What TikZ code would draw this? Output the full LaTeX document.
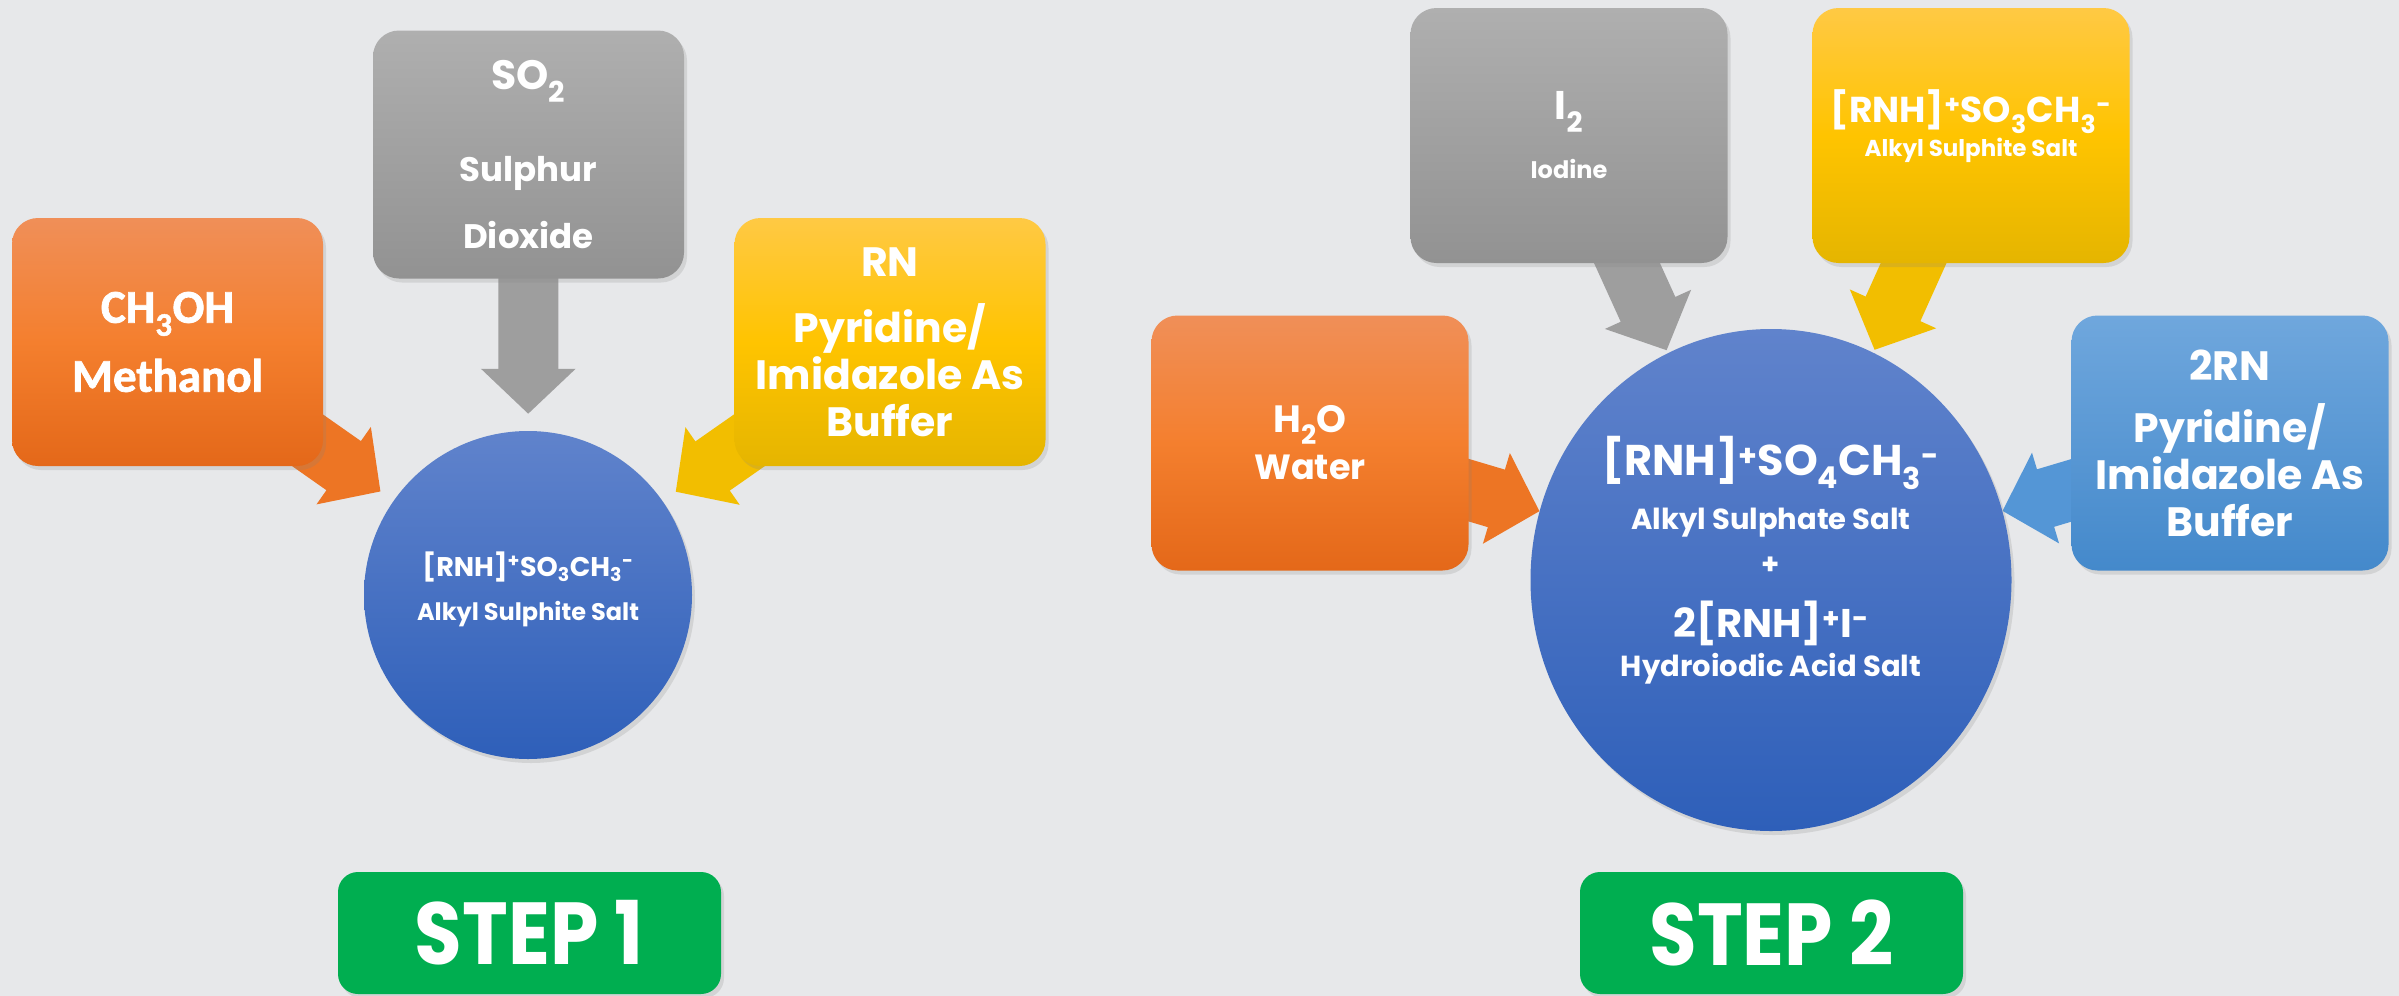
\documentclass[tikz,border=0pt]{standalone}
\usepackage{fontspec}
\setmainfont{Poppins}
\newfontfamily\calfont{Carlito}[BoldFeatures={FakeBold=1.5}]
\usetikzlibrary{arrows.meta,shadows,shapes.geometric,positioning}

\definecolor{bggray}{RGB}{231,232,234}
\definecolor{orangeT}{RGB}{240,143,88}
\definecolor{orangeM}{RGB}{244,127,46}
\definecolor{orangeB}{RGB}{228,104,25}
\definecolor{orangeA}{RGB}{237,117,36}
\definecolor{grayT}{RGB}{175,175,175}
\definecolor{grayB}{RGB}{146,146,146}
\definecolor{grayA}{RGB}{158,158,158}
\definecolor{goldT}{RGB}{255,201,68}
\definecolor{goldM}{RGB}{255,196,0}
\definecolor{goldB}{RGB}{229,181,0}
\definecolor{goldA}{RGB}{242,190,0}
\definecolor{skyT}{RGB}{111,167,221}
\definecolor{skyB}{RGB}{68,137,203}
\definecolor{skyA}{RGB}{84,150,214}
\definecolor{ballT}{RGB}{96,131,204}
\definecolor{ballB}{RGB}{46,95,185}
\definecolor{stepgreen}{RGB}{0,174,80}

\pgfdeclarelayer{paper}
\pgfdeclarelayer{links}
\pgfsetlayers{paper,links,main}

\newcommand{\fs}[2]{\fontsize{#1}{#2}\selectfont}

\begin{document}
\begin{tikzpicture}[x=1pt,y=-1pt,
    soft/.style={drop shadow={shadow xshift=3pt, shadow yshift=-4pt, opacity=0.2}},
    box/.style={soft, rounded corners=26pt, minimum width=311pt, minimum height=248pt, inner sep=0pt,
      align=center, text=white, font=\bfseries\fs{41}{47}},
    bigbox/.style={box, minimum width=317pt, minimum height=255pt},
    ball/.style={soft, circle, inner sep=0pt, top color=ballT, bottom color=ballB},
    txt/.style={align=center, text=white, inner sep=0pt},
    flow/.style={line width=60pt, -{Triangle[width=92pt,length=45pt]}},
    stepbox/.style={soft, rounded corners=20pt, fill=stepgreen, minimum width=383pt, minimum height=122pt,
      text=white, font=\bfseries\fs{88}{88}}
  ]
  \useasboundingbox (0,0) rectangle (2399,996);
  \begin{pgfonlayer}{paper}
    \fill[bggray] (0,0) rectangle (2399,996);
  \end{pgfonlayer}

  % step 1
  \node[box, top color=orangeT, bottom color=orangeB, middle color=orangeM,
    font=\calfont\bfseries\fs{47}{69}] (meth) at (167.5,342) {CH\textsubscript{3}OH\\Methanol};
  \node[box, top color=grayT, bottom color=grayB, font=\bfseries\fs{34}{67}] (so2) at (528.5,154.5)
    {{\fs{41}{67}SO\textsubscript{2}}\\[25pt]Sulphur\\Dioxide};
  \node[box, top color=goldT, bottom color=goldB, middle color=goldM] (rn) at (890,342)
    {RN\\[19pt]Pyridine/\\Imidazole As\\Buffer};
  \node[ball, minimum size=328pt] (prod1) at (528,595) {};
  \node[txt, font=\bfseries\fs{24}{44}] (prod1txt) at ([yshift=6pt]prod1.center)
    {{\fs{27}{44}[RNH]\textsuperscript{+}SO\textsubscript{3}CH\textsubscript{3}\textsuperscript{-}}\\Alkyl Sulphite Salt};
  \node[stepbox] (step1) at (529.5,933) {\scalebox{0.88}[1]{STEP 1}};

  % step 2
  \node[bigbox, top color=grayT, bottom color=grayB, font=\bfseries\fs{24}{59}] (iod) at (1569,135.5)
    {{\fs{40}{59}I\textsubscript{2}}\\Iodine};
  \node[bigbox, top color=goldT, bottom color=goldB, middle color=goldM] (salt) at (1971,135.5) {};
  \node[txt, font=\bfseries\fs{23}{34}] (salttxt) at ([yshift=9pt]salt.center)
    {{\fs{36}{34}[RNH]\textsuperscript{+}SO\textsubscript{3}CH\textsubscript{3}\textsuperscript{-}}\\Alkyl Sulphite Salt};
  \node[bigbox, top color=orangeT, bottom color=orangeB, middle color=orangeM, font=\bfseries\fs{35}{47}] (water) at (1310,443)
    {{\fs{38}{47}H\textsubscript{2}O}\\Water};
  \node[bigbox, top color=skyT, bottom color=skyB] (buf) at (2230,443) {2RN\\[15pt]Pyridine/\\Imidazole As\\Buffer};
  \node[ball, ellipse, minimum width=481pt, minimum height=502pt] (prod2) at (1771,580) {};
  \node[txt, font=\bfseries\fs{29}{39}] (prod2txt) at ([yshift=20pt]prod2.center)
    {{\fs{43}{39}[RNH]\textsuperscript{+}SO\textsubscript{4}CH\textsubscript{3}\textsuperscript{-}}\\[15pt]Alkyl Sulphate Salt\\[6pt]+\\[24pt]{\fs{40}{39}2[RNH]\textsuperscript{+}I\textsuperscript{-}}\\Hydroiodic Acid Salt};
  \node[stepbox] (step2) at (1771.5,933) {\scalebox{0.88}[1]{STEP 2}};

  \begin{pgfonlayer}{links}
    \draw[flow, orangeA, shorten >=16pt] (meth.center) -- (prod1);
    \draw[flow, grayA, shorten >=17pt] (so2.center) -- (prod1);
    \draw[flow, goldA, shorten >=16pt] (rn.center) -- (prod1);
    \draw[flow, grayA, shorten >=3pt] (iod.center) -- (prod2);
    \draw[flow, goldA, shorten >=3pt] (salt.center) -- (prod2);
    \draw[flow, orangeA] (water.center) -- (prod2);
    \draw[flow, skyA] (buf.center) -- (prod2);
  \end{pgfonlayer}
\end{tikzpicture}
\end{document}
